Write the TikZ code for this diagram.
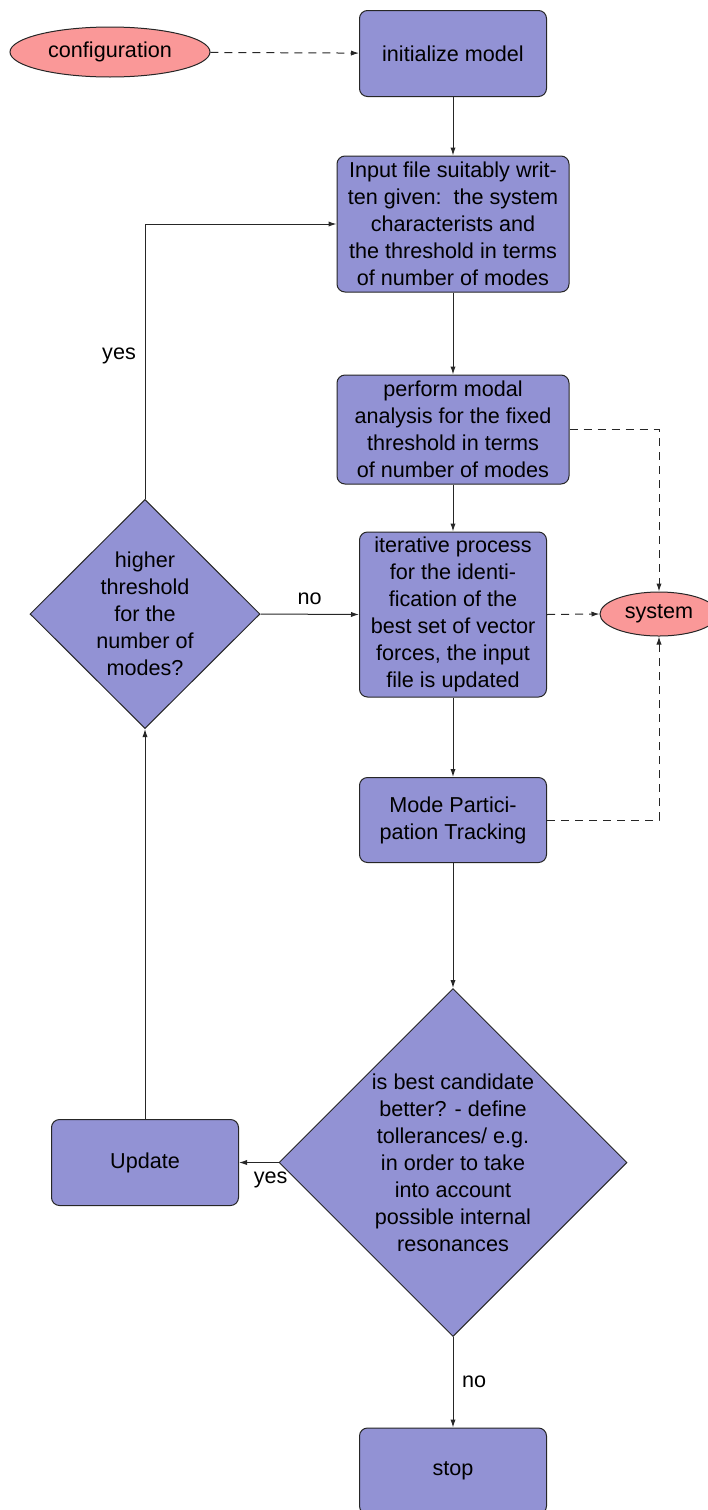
\documentclass[tikz,border=0pt]{standalone}
\usepackage{fontspec}
\setmainfont{Liberation Sans}
\usetikzlibrary{shapes.geometric,arrows.meta}
\definecolor{boxblue}{RGB}{146,146,212}
\definecolor{ellred}{RGB}{250,152,152}
\tikzset{
  txt/.style={font=\fontsize{10.8pt}{13.5pt}\selectfont},
  blockbox/.style={txt, rectangle, rounded corners=4pt, draw=black!85, line width=0.5pt, fill=boxblue, align=center, inner xsep=2pt, inner ysep=1pt},
  decbox/.style={txt, diamond, aspect=1, draw=black!85, line width=0.5pt, fill=boxblue, align=center, inner sep=1pt},
  cloudell/.style={txt, ellipse, draw=black!85, line width=0.5pt, fill=ellred, inner sep=0pt},
  conn/.style={draw=black!85, line width=0.5pt, -{Latex[length=4pt,width=2.6pt]}},
  dconn/.style={conn, dash pattern=on 4pt off 3pt},
  lbl/.style={txt}
}
\begin{document}
\begin{tikzpicture}[x=0.5pt,y=-0.5pt]
\useasboundingbox (0,0) rectangle (707,1510);
% nodes
\node[cloudell, minimum width=100pt, minimum height=25pt] (conf) at (110,52) {configuration};
\node[blockbox, minimum width=93.5pt, minimum height=43pt] (init) at (453,53.5) {initialize model};
\node[blockbox, minimum width=116pt, minimum height=68pt] (input) at (453,224) {Input file suitably writ-\\ten given:\ \ the system\\characterists and\\the threshold in terms\\of number of modes};
\node[blockbox, minimum width=116pt, minimum height=54.5pt] (perf) at (453,429.5) {perform modal\\analysis for the fixed\\threshold in terms\\of number of modes};
\node[blockbox, minimum width=93.5pt, minimum height=82.5pt] (iter) at (453,614.5) {iterative process\\for the identi-\\fication of the\\best set of vector\\forces, the input\\file is updated};
\node[cloudell, minimum width=59pt, minimum height=22pt] (sys) at (659,614) {system};
\node[blockbox, minimum width=93.5pt, minimum height=42.5pt] (mode) at (453,820) {Mode Partici-\\pation Tracking};
\node[decbox, minimum width=115pt, minimum height=114pt] (thr) at (145,614) {higher\\threshold\\for the\\number of\\modes?};
\node[decbox, minimum width=173.5pt, minimum height=172.5pt] (dec) at (453,1162.5) {is best candidate\\better? - define\\tollerances/ e.g.\\in order to take\\into account\\possible internal\\resonances};
\node[blockbox, minimum width=93.5pt, minimum height=43pt] (upd) at (145,1162.5) {Update};
\node[blockbox, minimum width=93.5pt, minimum height=43pt] (stop) at (453,1471) {stop};
% connectors
\draw[dconn] (conf) -- (init);
\draw[conn] (init) -- (input);
\draw[conn] (input) -- (perf);
\draw[conn] (perf) -- (iter);
\draw[conn] (iter) -- (mode);
\draw[conn] (mode) -- (dec);
\draw[conn] (dec.west) -- node[lbl, pos=0.2, below, yshift=-1pt] {yes} (upd.east);
\draw[conn] (dec.south) -- node[lbl, right, xshift=1pt] {no} (stop.north);
\draw[conn] (upd.north) -- (thr.south);
\draw[conn] (thr.north) |- node[lbl, pos=0.26, left, xshift=-1pt] {yes} (input.west);
\draw[conn] (thr.east) -- node[lbl, above, yshift=1pt] {no} (iter.west);
\draw[dconn] (perf.east) -| (sys.north);
\draw[dconn] (iter.east) -- (sys.west);
\draw[dconn] (mode.east) -| (sys.south);
\end{tikzpicture}
\end{document}
